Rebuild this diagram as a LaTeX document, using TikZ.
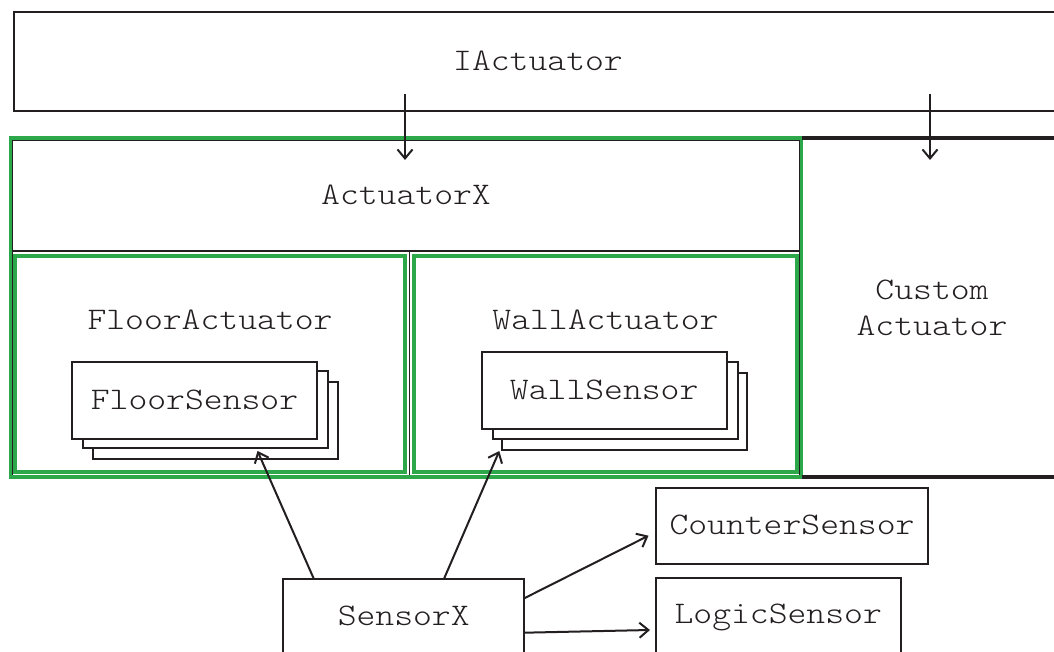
\documentclass[tikz,border=0pt]{standalone}
\usepackage{fontspec}
\newfontfamily\cour[FakeStretch=1.143]{Latin Modern Mono Light}
\usetikzlibrary{arrows.meta,calc}
\definecolor{ink}{RGB}{35,31,32}
\definecolor{grn}{RGB}{44,168,75}
\begin{document}
\begin{tikzpicture}[x=1pt,y=-1pt,
  every node/.style={font=\cour\fontsize{31.4}{36}\selectfont, text=ink, inner sep=0pt, outer sep=0pt},
  box/.style={draw=ink, line width=2pt, fill=white, rectangle, text height=18pt, text depth=0pt},
  thinbox/.style={draw=ink, line width=1.5pt, rectangle, text height=18pt, text depth=0pt},
  grnbox/.style={draw=grn, line width=3.5pt, rectangle},
  arr/.style={draw=ink, line width=2pt, -{Straight Barb[length=9pt,width=15pt]}},
  lbl/.style={anchor=base},
  sensor/.style={box, minimum width=245pt, minimum height=77pt},
]
\useasboundingbox (0,0) rectangle (1054,652);
\clip (0,0) rectangle (1054,652);
\fill[white] (0,0) rectangle (1054,652);

% IActuator
\node[box, minimum width=1048pt, minimum height=99pt] (ia) at (538,61.5) {IActuator};

% ActuatorX
\node[thinbox, minimum width=788pt, minimum height=336pt] (axbody) at (406,308) {};
\node[thinbox, minimum width=788pt, minimum height=111pt] (ax) at (406,195.5) {ActuatorX};
\draw[ink, line width=1.5pt] ($(ax.south)+(3.5,0)$) -- ($(axbody.south)+(3.5,0)$);
\node[grnbox, minimum width=791pt, minimum height=339pt] (axg) at (406,307.5) {};
\node[grnbox, minimum width=390pt, minimum height=216pt] (fa) at (210,364) {};
\node[grnbox, minimum width=383pt, minimum height=216pt] (wa) at (605.5,364) {};
\node[lbl] (fal) at (210,329.3) {FloorActuator};
\node[lbl] (wal) at (605.5,329.3) {WallActuator};

% Custom Actuator
\draw[ink, line width=3.5pt] (axg.north east) -- ($(axg.north east)+(260,0)$);
\draw[ink, line width=3.5pt] (axg.south east) -- ($(axg.south east)+(260,0)$);
\node[align=center] (ca) at (932,307.5) {Custom\\Actuator};

% FloorSensor stack
\node[sensor] (fs3) at (215,420.5) {};
\node[sensor] (fs2) at (205,409.5) {};
\node[sensor] (fs) at (194.5,400.5) {FloorSensor};

% WallSensor stack
\node[sensor] (ws3) at (624.7,411) {};
\node[sensor] (ws2) at (615.7,400) {};
\node[sensor] (ws) at (604.2,390.5) {WallSensor};

% Sensors below
\node[box, minimum width=241pt, minimum height=80pt, text depth=6pt] (sx) at (403.7,619) {SensorX};
\node[box, minimum width=272.6pt, minimum height=76pt] (cs) at (792,525.7) {CounterSensor};
\node[box, minimum width=245pt, minimum height=80pt, text depth=7.5pt] (ls) at (778.2,618) {LogicSensor};

% connectors
\coordinate (iaA) at (405,94);
\coordinate (axA) at (405,160);
\draw[arr] (iaA) -- (axA);
\coordinate (iaB) at (930,94);
\coordinate (caA) at (930,160);
\draw[arr] (iaB) -- (caA);

\coordinate (fsT) at (257.5,451);
\draw[arr] ($(sx.north west)+(30.7,0)$) -- (fsT);
\coordinate (wsT) at (499.3,451);
\draw[arr] ($(sx.north west)+(160.7,0)$) -- (wsT);
\coordinate (csT) at (648.5,535.7);
\draw[arr] ($(sx.north east)+(0,19.3)$) -- (csT);
\coordinate (lsT) at (650,630);
\draw[arr] ($(sx.north east)+(0,53.7)$) -- (lsT);
\end{tikzpicture}
\end{document}
